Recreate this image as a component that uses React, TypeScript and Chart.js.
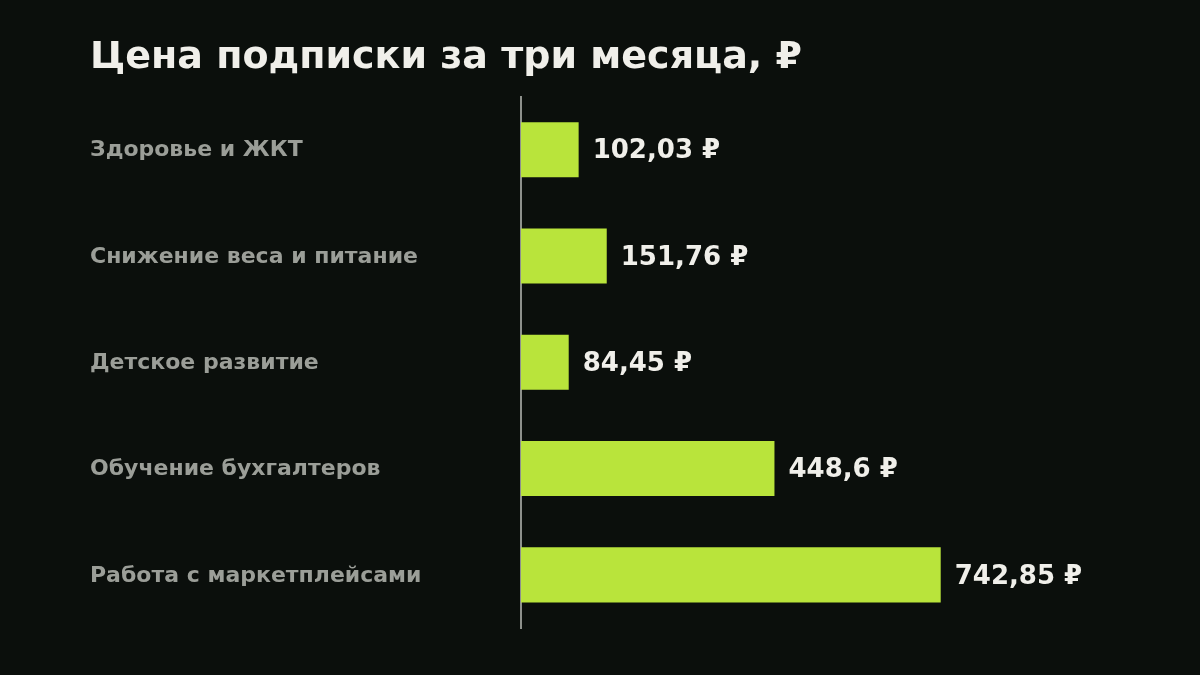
import React, { useEffect, useRef } from "react";
import { Chart, registerables } from "chart.js";

Chart.register(...registerables);

const categories = [
  "Здоровье и ЖКТ",
  "Снижение веса и питание",
  "Детское развитие",
  "Обучение бухгалтеров",
  "Работа с маркетплейсами",
];
const prices = [102.03, 151.76, 84.45, 448.6, 742.85];
const titleText = "Цена подписки за три месяца, ₽";

const BG = "#0b0f0c";
const BAR = "#b9e43b";
const TEXT = "#f0efea";
const MUTED = "#9b9e98";
const FONT = "'DejaVu Sans', sans-serif";

const fmt = (v: number) => String(v).replace(".", ",") + " ₽";

const bgPlugin = {
  id: "bgFill",
  beforeDraw(chart: any) {
    const { ctx, width, height } = chart;
    ctx.save();
    ctx.fillStyle = BG;
    ctx.fillRect(0, 0, width, height);
    ctx.restore();
  },
};

const textLabels = {
  id: "textLabels",
  afterDatasetsDraw(chart: any) {
    const { ctx } = chart;
    const yScale = chart.scales.y;
    const meta = chart.getDatasetMeta(0);
    ctx.save();
    ctx.textAlign = "left";
    ctx.textBaseline = "middle";
    ctx.font = `bold 22px ${FONT}`;
    ctx.fillStyle = MUTED;
    categories.forEach((c, i) => {
      ctx.fillText(c, yScale.left, yScale.getPixelForValue(i) + 1);
    });
    ctx.font = `bold 26px ${FONT}`;
    ctx.fillStyle = TEXT;
    meta.data.forEach((bar: any, i: number) => {
      ctx.fillText(fmt(prices[i]), bar.x + 14, bar.y + 2);
    });
    ctx.restore();
  },
};

export default function App() {
  const ref = useRef<HTMLCanvasElement>(null);
  useEffect(() => {
    if (!ref.current) return;
    const chart = new Chart(ref.current, {
      type: "bar",
      data: {
        labels: categories,
        datasets: [
          {
            data: prices,
            backgroundColor: BAR,
            borderWidth: 0,
            categoryPercentage: 1,
            barPercentage: 0.518,
          },
        ],
      },
      options: {
        indexAxis: "y",
        animation: false,
        responsive: false,
        maintainAspectRatio: false,
        layout: { padding: { left: 90, top: 35, right: 114, bottom: 47 } },
        plugins: {
          legend: { display: false },
          tooltip: { enabled: false },
          title: {
            display: true,
            text: titleText,
            align: "start",
            color: TEXT,
            font: { family: FONT, size: 38, weight: "bold", lineHeight: 1.2 },
            padding: { top: 0, bottom: 16 },
          },
        },
        scales: {
          x: {
            display: false,
            min: 0,
            max: 1000,
          },
          y: {
            afterFit(scale: any) {
              scale.width = 431;
            },
            grid: { display: false, drawTicks: false },
            border: { display: true, color: "#8e918c", width: 2 },
            ticks: { display: false },
          },
        },
      },
      plugins: [bgPlugin, textLabels],
    });
    return () => chart.destroy();
  }, []);
  return (
    <div style={{ position: "fixed", left: 0, top: 0, width: 1200, height: 675, background: BG }}>
      <canvas ref={ref} width={1200} height={675} style={{ display: "block" }} />
    </div>
  );
}
